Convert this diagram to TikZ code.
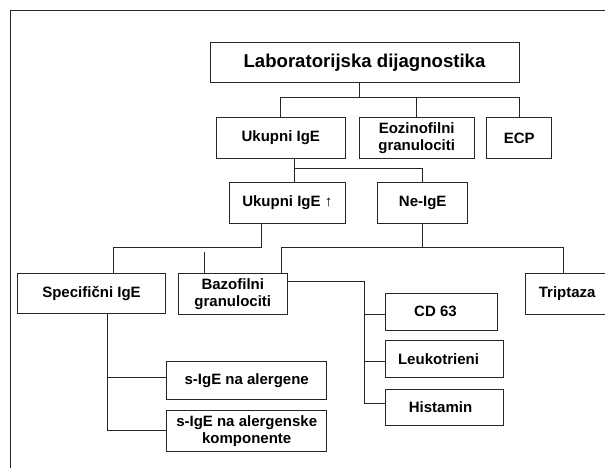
\documentclass[tikz,border=0pt]{standalone}
\usepackage{fontspec}
\setmainfont{Liberation Sans}
\begin{document}
\begin{tikzpicture}[x=1pt,y=-1pt,
  box/.style={draw=black!85,line width=0.9pt,inner sep=0pt,align=center,
    font=\fontsize{15}{17}\selectfont\bfseries,text=black},
  conn/.style={draw=black!85,line width=0.9pt}]
\useasboundingbox[fill=white] (0,0) rectangle (605,468);
% frame
\draw[conn] (10.7,475) -- (10.7,10.7) -- (612,10.7);
% nodes
\node[box,minimum width=309pt,minimum height=40pt,font=\fontsize{18.6}{21}\selectfont\bfseries] (title) at (364.5,62.3) {Laboratorijska dijagnostika};
\node[box,minimum width=128.3pt,minimum height=40.6pt] (u1) at (280.8,138) {Ukupni IgE};
\node[box,minimum width=115.3pt,minimum height=40.6pt] (eo) at (416.7,138) {Eozinofilni\\granulociti};
\node[box,minimum width=65pt,minimum height=40.6pt] (ecp) at (519.2,138) {ECP};
\node[box,minimum width=116.7pt,minimum height=41pt] (u2) at (287.3,202.8) {Ukupni IgE ↑};
\node[box,minimum width=90pt,minimum height=41pt] (ne) at (422.7,202.8) {\raisebox{2pt}{Ne-IgE}};
\node[box,minimum width=148.4pt,minimum height=40pt] (sp) at (91.5,293.3) {Specifični IgE};
\node[box,minimum width=109pt,minimum height=41pt] (ba) at (232.8,293.8) {Bazofilni\\granulociti};
\node[box,minimum width=95pt,minimum height=40.7pt] (tr) at (573.2,293.7) {Triptaza\hspace*{12pt}};
\node[box,minimum width=111.6pt,minimum height=36.7pt] (cd) at (441.5,311.7) {CD 63\hspace*{12pt}};
\node[box,minimum width=117.6pt,minimum height=36.6pt] (le) at (444.5,359) {Leukotrieni\hspace*{12pt}};
\node[box,minimum width=117.6pt,minimum height=36.7pt] (hi) at (444.5,407.3) {Histamin\hspace*{8pt}};
\node[box,minimum width=160pt,minimum height=37.3pt] (s1) at (246.7,380.3) {s-IgE na alergene};
\node[box,minimum width=160pt,minimum height=41.7pt] (s2) at (246.7,430.8) {s-IgE na alergenske\\komponente};
% bus levels
\coordinate (b1) at (0,97.7);
\coordinate (b2) at (0,168.3);
\coordinate (b3) at (0,247.7);
\coordinate (b5) at (364.3,0);
\coordinate (stub) at (204,251.7);
\coordinate (spd) at ([xshift=16.2pt]sp.south);
% level 1
\draw[conn] ([xshift=-5.5pt]title.south) -- ([xshift=-5.5pt]title.south |- b1);
\draw[conn] (u1.north) |- (ecp.north |- b1) -- (ecp.north);
\draw[conn] (eo.north) -- (eo.north |- b1);
% level 2
\draw[conn] ([xshift=13.5pt]u1.south) -- ([xshift=7pt]u2.north);
\draw[conn] (ne.north) |- ([xshift=7pt]u2.north |- b2);
% level 3
\draw[conn] ([xshift=-25.6pt]u2.south) |- ([xshift=21.8pt]sp.north |- b3) -- ([xshift=21.8pt]sp.north);
\draw[conn] (stub) -- (stub |- ba.north);
\draw[conn] (ne.south) -- (ne.south |- b3);
\draw[conn] ([xshift=48.2pt]ba.north) |- ([xshift=-9.9pt]tr.north |- b3) -- ([xshift=-9.9pt]tr.north);
% basophil branches
\draw[conn] ([yshift=12.1pt]ba.east) -| ([yshift=4pt]hi.west -| b5) -- ([yshift=4pt]hi.west);
\draw[conn] ([yshift=-2.6pt]cd.west) -- ([yshift=-2.6pt]cd.west -| b5);
\draw[conn] ([yshift=-2pt]le.west) -- ([yshift=-2pt]le.west -| b5);
% specific IgE branches
\draw[conn] (spd) |- (s2.west);
\draw[conn] ([yshift=2.6pt]s1.west) -- ([yshift=2.6pt]s1.west -| spd);
\end{tikzpicture}
\end{document}
